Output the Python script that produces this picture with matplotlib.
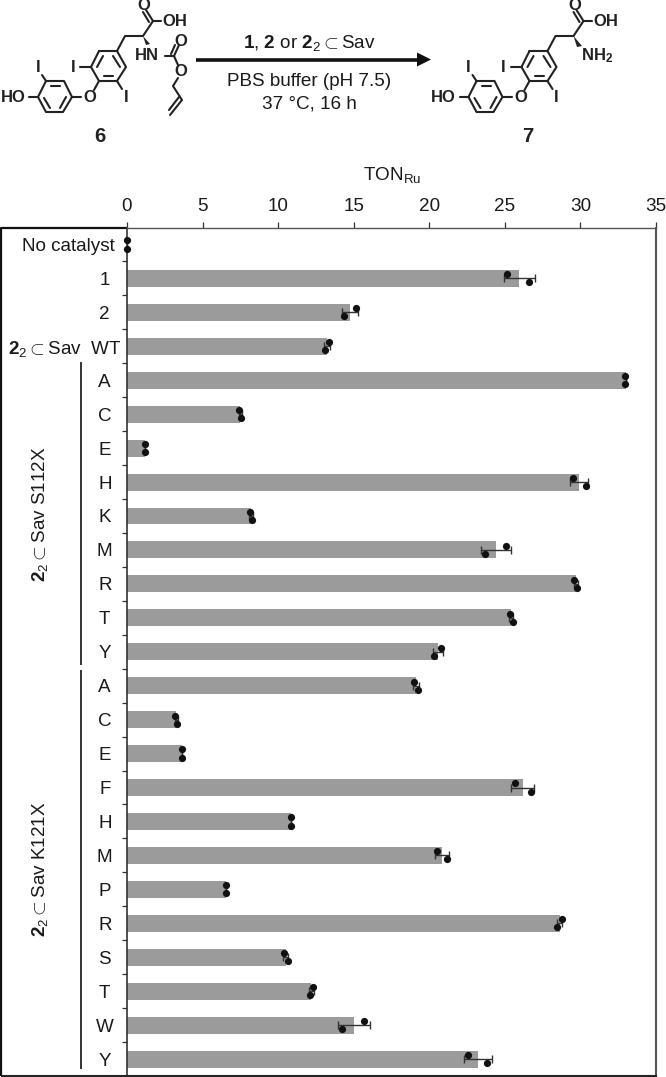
import numpy as np
import matplotlib
matplotlib.use("Agg")
import matplotlib.pyplot as plt

plt.rcParams['font.family'] = ['Liberation Sans', 'DejaVu Sans']
plt.rcParams['mathtext.fontset'] = 'custom'
plt.rcParams['mathtext.rm'] = 'Liberation Sans'
plt.rcParams['mathtext.bf'] = 'Liberation Sans:bold'
plt.rcParams['mathtext.it'] = 'Liberation Sans:italic'

CATALYST = r'$\mathbf{2}_{\mathrm{2}}{\subset}$Sav'

categories = ['No catalyst', '1', '2', CATALYST + '  WT',
              'A', 'C', 'E', 'H', 'K', 'M', 'R', 'T', 'Y',
              'A', 'C', 'E', 'F', 'H', 'M', 'P', 'R', 'S', 'T', 'W', 'Y']
means = [0, 25.95, 14.74, 13.25,
         33.0, 7.48, 1.2, 29.9, 8.2, 24.4, 29.7, 25.4, 20.58,
         19.1, 3.27, 3.65, 26.17, 10.85, 20.85, 6.55, 28.62, 10.5, 12.2, 15.0, 23.2]
point_a = [0, 25.15, 15.14, 13.39,
           32.97, 7.4, 1.2, 29.5, 8.13, 25.1, 29.58, 25.33, 20.76,
           18.97, 3.2, 3.65, 25.66, 10.85, 20.5, 6.55, 28.75, 10.4, 12.3, 15.7, 22.55]
point_b = [0, 26.6, 14.38, 13.11,
           32.97, 7.54, 1.2, 30.35, 8.28, 23.67, 29.8, 25.53, 20.3,
           19.24, 3.32, 3.65, 26.7, 10.85, 21.16, 6.55, 28.48, 10.62, 12.1, 14.2, 23.85]
x_ticks = [0, 5, 10, 15, 20, 25, 30, 35]

W, H = 666, 1077
L, R, T, B = 127, 656, 227.5, 1076
FS = 13.6
INK = '#1a1a1a'

fig = plt.figure(figsize=(W / 100, H / 100), dpi=100, facecolor='white')

# overlay in pixel coordinates: scheme, frame, group labels
ov = fig.add_axes([0, 0, 1, 1], zorder=0)
ov.set_xlim(0, W)
ov.set_ylim(H, 0)
ov.axis('off')

ax = fig.add_axes([L / W, 1 - B / H, (R - L) / W, (B - T) / H], zorder=1)
ax.patch.set_alpha(0)
pos = np.arange(len(categories)) + 0.5
a = np.array(point_a, float)
b = np.array(point_b, float)
err = np.std(np.vstack([a, b]), axis=0, ddof=1)

ax.barh(pos, means, height=0.5, color='#9b9b9b', linewidth=0, zorder=2)
ax.errorbar(means, pos, xerr=err, fmt='none', ecolor='#333333', elinewidth=1.0,
            capsize=3, capthick=1.0, zorder=3)
ax.plot(a, pos - 0.12, 'o', color='#111111', ms=5.2, mew=0, zorder=4, clip_on=False)
ax.plot(b, pos + 0.12, 'o', color='#111111', ms=5.2, mew=0, zorder=4, clip_on=False)

ax.set_xlim(0, 35)
ax.set_ylim(len(categories), 0)
ax.xaxis.tick_top()
ax.set_xticks(x_ticks)
ax.tick_params(axis='x', length=4, width=0.9, color='#333333', labelsize=FS, pad=5, labelcolor=INK)
ax.set_yticks(np.arange(1, len(categories)))
ax.tick_params(axis='y', which='major', length=3.5, width=0.9, color='#333333', labelleft=False)
ax.set_yticks(pos, categories, minor=True)
ax.tick_params(axis='y', which='minor', length=0, labelsize=FS, labelcolor=INK)
for i, tick in enumerate(ax.yaxis.get_minor_ticks()):
    if i == 0:
        tick.set_pad(9)
        tick.label1.set_ha('right')
    elif i == 3:
        tick.set_pad(4)
        tick.label1.set_ha('right')
    else:
        tick.set_pad(16)
        tick.label1.set_ha('center')
for side in ['top', 'right', 'bottom']:
    ax.spines[side].set_color('#555555')
    ax.spines[side].set_linewidth(1.0)
ax.spines['right'].set_linewidth(1.5)
ax.spines['bottom'].set_color('#222222')
ax.spines['bottom'].set_linewidth(1.5)
ax.spines['left'].set_color('#333333')
ax.spines['left'].set_linewidth(1.2)

ov.text(392, 175, r'TON$_{\mathrm{Ru}}$', fontsize=FS, color=INK, ha='center', va='center')

# outer frame
ov.plot([1.2, 1.2, L], [B, T + 0.5, T + 0.5], color='#111111', lw=1.6, solid_capstyle='butt')
ov.plot([1.2, L], [B, B], color='#222222', lw=1.5, solid_capstyle='butt')

# group rules and rotated labels
ov.plot([81, 81], [363, 664], color='#333333', lw=1.4)
ov.plot([81, 81], [671, 1068], color='#333333', lw=1.4)
ov.text(40, 514, CATALYST + ' S112X', rotation=90, fontsize=FS, color=INK, ha='center', va='center')
ov.text(40, 869, CATALYST + ' K121X', rotation=90, fontsize=FS, color=INK, ha='center', va='center')


# reaction scheme
def seg(pts, dx=0, lw=1.5):
    xs, ys = zip(*pts)
    ov.plot(np.array(xs) + dx, ys, color='#222222', lw=lw, solid_capstyle='round', solid_joinstyle='round')


def label(x, y, s, size=12, weight='bold'):
    ov.text(x, y, s, fontsize=size, fontweight=weight, color='#222222', ha='center', va='center')


def core(dx):
    ring_a = [(46, 81), (64, 81), (72, 97), (63, 112), (46, 112), (38, 97), (46, 81)]
    ring_b = [(99, 51), (117, 51), (126, 67), (117, 81), (99, 81), (91, 67), (99, 51)]
    seg(ring_a, dx)
    seg(ring_b, dx)
    seg([(51, 86), (60, 86)], dx)
    seg([(50, 108), (44, 98)], dx)
    seg([(66, 97), (60, 108)], dx)
    seg([(104, 76), (113, 76)], dx)
    seg([(97, 67), (103, 56)], dx)
    seg([(113, 56), (120, 67)], dx)
    seg([(46, 81), (42, 75)], dx)
    seg([(38, 97), (29, 97)], dx)
    seg([(72, 97), (81, 97)], dx)
    seg([(99, 81), (94, 90)], dx)
    seg([(91, 67), (80, 67)], dx)
    seg([(117, 81), (122, 89)], dx)
    seg([(117, 51), (125, 36), (143, 36), (153, 21)], dx)
    seg([(153, 21), (161, 21)], dx)
    seg([(153, 21), (146, 10)], dx)
    seg([(149, 22), (143, 12)], dx)
    label(38 + dx, 68, 'I')
    label(13 + dx, 97, 'HO')
    label(90 + dx, 97, 'O')
    label(73 + dx, 67, 'I')
    label(126 + dx, 97, 'I')
    label(144 + dx, 6, 'O')
    label(175 + dx, 21, 'OH')


core(0)
ov.fill([143, 150, 146], [36, 44, 45], color='#222222', lw=0)
label(147, 56, 'HN')
seg([(165, 56), (174, 56)])
seg([(174, 56), (179, 45)])
seg([(171, 54), (175, 45)])
seg([(174, 56), (178, 65)])
label(181, 41, 'O')
label(181, 71, 'O')
seg([(178, 78), (173, 86), (182, 100), (170, 115)])
seg([(179, 97), (169, 110)])
label(100, 136, '6', size=14.5)

core(430.5)
ov.fill([573.5, 582, 577], [36, 46, 47], color='#222222', lw=0)
ov.text(581, 56, r'$\mathbf{NH_{2}}$', fontsize=12, color='#222222', ha='left', va='center')
label(528, 136, '7', size=14.5)

# arrow
ov.plot([196, 420], [59.5, 59.5], color='#111111', lw=2.6, solid_capstyle='butt')
ov.fill([417, 431, 417], [52.5, 59.5, 66.5], color='#111111', lw=0)
ov.text(309, 43, r'$\mathbf{1}$, $\mathbf{2}$ or ' + CATALYST, fontsize=FS, color=INK, ha='center', va='center')
ov.text(309, 81, 'PBS buffer (pH 7.5)', fontsize=FS, color=INK, ha='center', va='center')
ov.text(309, 104, '37 °C, 16 h', fontsize=FS, color=INK, ha='center', va='center')

fig.savefig('out.png', dpi=100, facecolor='white')
